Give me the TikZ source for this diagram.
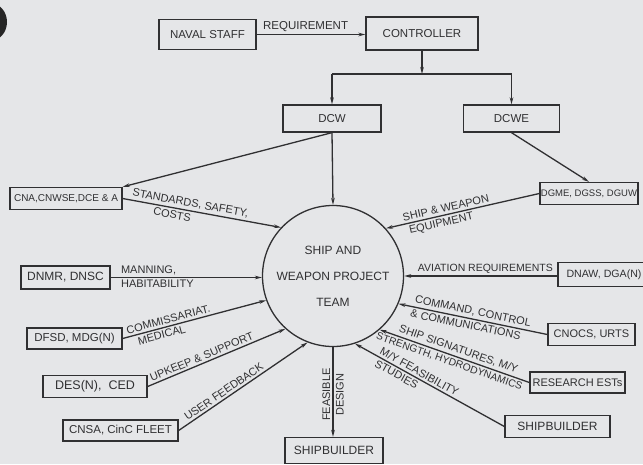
\documentclass[tikz,border=0pt]{standalone}
\usepackage{fontspec}
\setmainfont{Liberation Sans}
\usetikzlibrary{arrows.meta}
\definecolor{bg}{RGB}{229,230,232}
\definecolor{ink}{RGB}{48,48,50}
\newcommand{\myfs}[1]{\fontsize{#1}{#1}\selectfont}
\begin{document}
\begin{tikzpicture}[x=1pt,y=-1pt,line width=1.3pt,color=ink,
  box/.style n args={2}{draw, rectangle, inner sep=0pt, minimum width=#1pt, minimum height=#2pt, font=\myfs{11.5}},
  lab/.style={font=\myfs{11}, inner sep=2.2pt},
  arr/.style={-{Stealth[length=7pt,width=3.6pt]}},
  rarr/.style={{Stealth[length=7pt,width=3.6pt]}-}]
\useasboundingbox (0,0) rectangle (643,464);
\fill[bg] (0,0) rectangle (643,464);
\fill[black!85] (-10,22) ellipse [x radius=17, y radius=19];

% boxes
\node[box={97}{30}] (naval) at (207.5,34.5) {NAVAL STAFF};
\node[box={112}{33}] (ctrl) at (422,33.5) {CONTROLLER};
\node[box={98}{27}] (dcw) at (332,118.5) {DCW};
\node[box={96}{27}] (dcwe) at (511.5,118.5) {DCWE};
\node[box={112}{22}, font=\myfs{10}] (cna) at (66,198.5) {CNA,CNWSE,DCE \& A};
\node[box={89}{23}, font=\myfs{12}] (dnmr) at (65.5,277.5) {DNMR, DNSC};
\node[box={95}{21}] (dfsd) at (74.5,338.5) {DFSD, MDG(N)};
\node[box={104}{22}, font=\myfs{12.5}] (des) at (95,386.5) {DES(N),\ \ CED};
\node[box={115}{21}] (cnsa) at (120.5,430.5) {CNSA, CinC FLEET};
\node[box={98}{26}, font=\myfs{12}] (sbb) at (334,450.5) {SHIPBUILDER};
\node[box={98}{22}, font=\myfs{9.5}] (dgme) at (589,193.5) {DGME, DGSS, DGUW};
\node[box={92}{24}, font=\myfs{10.6}] (dnaw) at (604,274.5) {DNAW, DGA(N)};
\node[box={87}{22}, font=\myfs{11}] (cnocs) at (591.5,334.5) {CNOCS, URTS};
\node[box={95}{21}, font=\myfs{11}] (res) at (577.5,382.5) {RESEARCH ESTs};
\node[box={105}{22}, font=\myfs{12}] (sbr) at (557.5,426.5) {SHIPBUILDER};

\node[circle, draw, minimum size=141pt, inner sep=0pt, align=center,
      font=\fontsize{12}{26}\selectfont] (team) at (333,276)
      {SHIP AND\\WEAPON PROJECT\\TEAM};

% top
\draw[arr] (naval.east) -- (naval.east -| ctrl.west) node[lab, font=\myfs{11.5}, above, pos=0.45]{REQUIREMENT};
\coordinate (j) at (422,74);
\coordinate (jl) at (dcw.north |- j);
\coordinate (jr) at (dcwe.north |- j);
\draw[arr] (ctrl.south) -- (j);
\draw (jl) -- (jr);
\draw[arr] (jl) -- (dcw.north);
\draw[arr] (jr) -- (dcwe.north);
\draw[arr] (dcw.south) -- (cna.north east);
\draw[arr] (dcw.south) -- (team.north);
\draw[arr] (dcwe.south) -- (dgme.north);

% left
\draw[arr] (cna.east) -- (team.137)
  node[lab, sloped, above, pos=0.42]{STANDARDS, SAFETY,}
  node[lab, sloped, below, pos=0.32]{COSTS};
\draw[arr] (dnmr.east) -- (dnmr.east -| team.west)
  node[lab, pos=0.05, anchor=south west]{MANNING,}
  node[lab, pos=0.05, anchor=north west]{HABITABILITY};
\draw[arr] (dfsd.east) -- (team.200)
  node[lab, sloped, above, pos=0.33]{COMMISSARIAT.}
  node[lab, sloped, below, pos=0.26]{MEDICAL};
\draw[arr] (des.east) -- (team.228)
  node[lab, sloped, above, pos=0.41]{UPKEEP \& SUPPORT};
\draw[arr] (cnsa.east) -- (team.249)
  node[lab, sloped, above, pos=0.38]{USER FEEDBACK};
\draw[arr] (team.south) -- (team.south |- sbb.north)
  node[lab, rotate=90, anchor=south, pos=0.53]{FEASIBLE}
  node[lab, rotate=90, anchor=north, pos=0.53]{DESIGN};

% right
\draw[rarr] (team.42) -- (dgme.west)
  node[lab, sloped, above, pos=0.4]{SHIP \& WEAPON}
  node[lab, sloped, below, pos=0.35]{EQUIPMENT};
\draw[rarr] (team.east) -- (team.east -| dnaw.west)
  node[lab, font=\myfs{10.5}, above, pos=0.53]{AVIATION REQUIREMENTS};
\draw[rarr] (team.337) -- (cnocs.west)
  node[lab, sloped, above, pos=0.49]{COMMAND, CONTROL}
  node[lab, sloped, below, pos=0.46]{\& COMMUNICATIONS};
\draw[rarr] (team.311) -- (res.west)
  node[lab, sloped, above, pos=0.51]{SHIP SIGNATURES, M/Y}
  node[lab, font=\myfs{10.3}, sloped, below, pos=0.48]{STRENGTH, HYDRODYNAMICS};
\draw[rarr] (team.288) -- (sbr.west)
  node[lab, sloped, above, pos=0.41]{M/Y FEASIBILITY}
  node[lab, sloped, below, pos=0.3]{STUDIES};
\end{tikzpicture}
\end{document}
